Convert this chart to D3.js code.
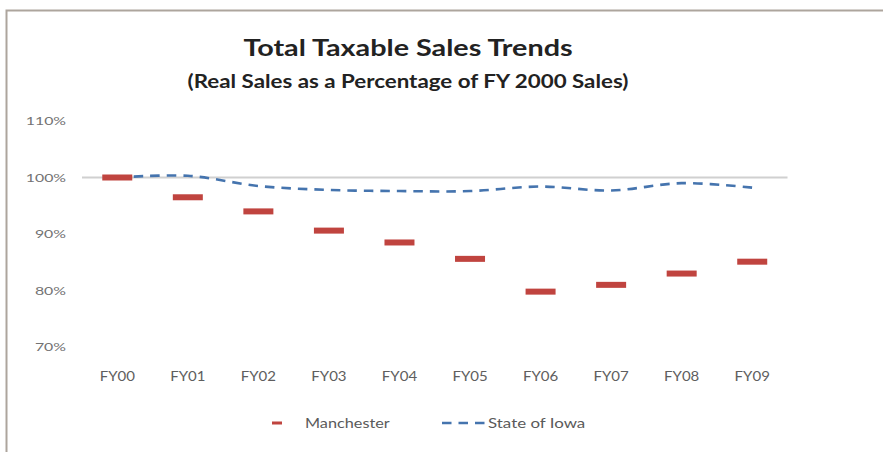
<!DOCTYPE html>
<html>
<head>
<meta charset="utf-8">
<script src="https://cdn.jsdelivr.net/npm/d3@7"></script>
<style>
  html, body { margin: 0; padding: 0; background: #fff; }
  svg { display: block; }
  text { font-family: "Lato", "Open Sans", sans-serif; }
</style>
</head>
<body>
<svg id="chart" width="883" height="452"></svg>
<script>
// Fiscal years on the category axis
const years = ["FY00", "FY01", "FY02", "FY03", "FY04", "FY05", "FY06", "FY07", "FY08", "FY09"];
// Real taxable sales as a percentage of FY 2000 sales
const manchester = [100.0, 96.5, 94.0, 90.6, 88.5, 85.6, 79.8, 81.0, 83.0, 85.1];
const stateOfIowa = [100.0, 100.3, 98.5, 97.8, 97.6, 97.6, 98.4, 97.7, 99.0, 98.2];
// Value axis ticks
const yTicks = [70, 80, 90, 100, 110];
const seriesNames = ["Manchester", "State of Iowa"];

const svg = d3.select("#chart");
const W = 883, H = 452;

// Widen glyph runs horizontally (the chart's lettering is broad)
function stretch(sel, k) {
  sel.each(function () {
    const len = this.getComputedTextLength();
    d3.select(this)
      .attr("textLength", len * k)
      .attr("lengthAdjust", "spacingAndGlyphs");
  });
}

// Outer frame (top and left edges)
svg.append("path")
  .attr("d", `M6.5,${H} L6.5,10.5 L${W},10.5`)
  .attr("fill", "none")
  .attr("stroke", "#ada59d")
  .attr("stroke-width", 2);

// Titles
svg.append("text")
  .attr("x", 408).attr("y", 56)
  .attr("text-anchor", "middle")
  .attr("font-size", 23).attr("font-weight", 700)
  .attr("fill", "#222")
  .text("Total Taxable Sales Trends")
  .call(stretch, 1.25);
svg.append("text")
  .attr("x", 408).attr("y", 88)
  .attr("text-anchor", "middle")
  .attr("font-size", 18).attr("font-weight", 700)
  .attr("fill", "#222")
  .text("(Real Sales as a Percentage of FY 2000 Sales)")
  .call(stretch, 1.24);

const x = d3.scaleBand().domain(years).range([82, 787.5]);
const y = d3.scaleLinear().domain([70, 110]).range([347, 121]);
const cx = d => x(d) + x.bandwidth() / 2;

// Value axis labels
const yAxis = d3.axisLeft(y)
  .tickValues(yTicks)
  .tickFormat(d => d + "%")
  .tickSize(0)
  .tickPadding(0);
const gy = svg.append("g").attr("transform", "translate(66,0)").call(yAxis);
gy.select(".domain").remove();
gy.selectAll("text")
  .attr("font-size", 12)
  .attr("fill", "#737373")
  .style("font-family", "Lato, sans-serif")
  .call(stretch, 1.32);

// Reference line at 100%
svg.append("line")
  .attr("x1", x.range()[0]).attr("x2", x.range()[1])
  .attr("y1", y(100)).attr("y2", y(100))
  .attr("stroke", "#d0d0d0").attr("stroke-width", 2);

// Category axis labels
const xAxis = d3.axisBottom(x).tickSize(0).tickPadding(0);
const gx = svg.append("g").attr("transform", "translate(0,377)").call(xAxis);
gx.select(".domain").remove();
gx.selectAll("text")
  .attr("font-size", 12.5)
  .attr("fill", "#5e5e5e")
  .attr("dy", "0.35em")
  .style("font-family", "Lato, sans-serif")
  .call(stretch, 1.2);

// State of Iowa: smoothed dashed line
const line = d3.line()
  .x((d, i) => cx(years[i]))
  .y(d => y(d))
  .curve(d3.curveCatmullRom.alpha(0.5));
svg.append("path")
  .datum(stateOfIowa)
  .attr("d", line)
  .attr("fill", "none")
  .attr("stroke", "#4574ae")
  .attr("stroke-width", 2.6)
  .attr("stroke-dasharray", "9.5,7");

// Manchester: dash markers
svg.append("g").selectAll("rect")
  .data(manchester)
  .join("rect")
  .attr("x", (d, i) => cx(years[i]) - 15)
  .attr("y", d => y(d) - 3)
  .attr("width", 30)
  .attr("height", 6)
  .attr("fill", "#c0443f");

// Legend
const lg = svg.append("g").attr("transform", "translate(0,423)");
lg.append("rect")
  .attr("x", 272).attr("y", -1.5).attr("width", 10).attr("height", 3)
  .attr("fill", "#c0443f");
lg.append("text")
  .attr("x", 305).attr("y", 0).attr("dy", "0.35em")
  .attr("font-size", 13).attr("fill", "#5a5a5a")
  .text(seriesNames[0])
  .call(stretch, 1.25);
lg.append("line")
  .attr("x1", 442).attr("x2", 486).attr("y1", 0).attr("y2", 0)
  .attr("stroke", "#4574ae").attr("stroke-width", 2.6)
  .attr("stroke-dasharray", "9.5,7");
lg.append("text")
  .attr("x", 488).attr("y", 0).attr("dy", "0.35em")
  .attr("font-size", 13).attr("fill", "#5a5a5a")
  .text(seriesNames[1])
  .call(stretch, 1.3);
</script>
</body>
</html>
